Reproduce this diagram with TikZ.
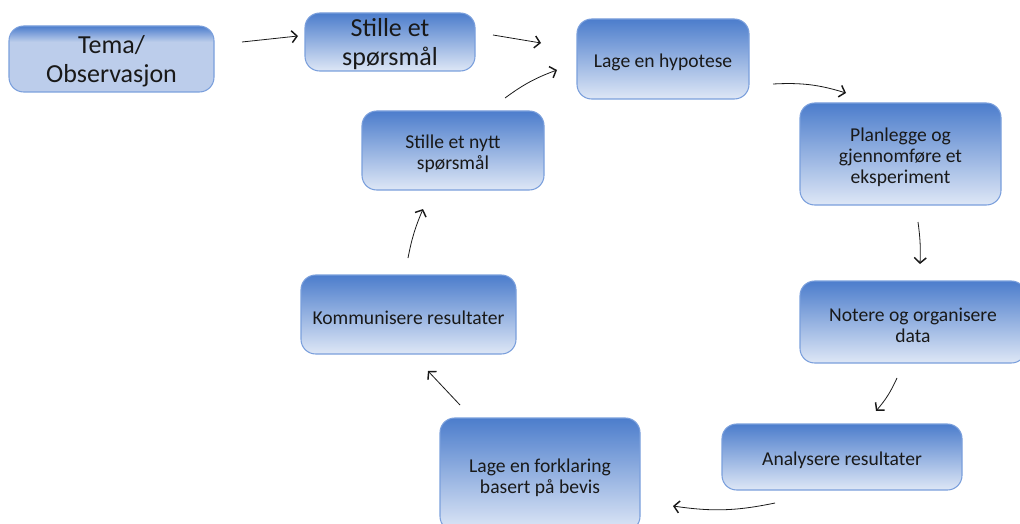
\documentclass[tikz,border=0pt]{standalone}
\usepackage{fontspec}
\setmainfont{Carlito}
\usepackage{tikz}
\usetikzlibrary{arrows.meta}
\usetikzlibrary{positioning,calc,shadings}

\definecolor{boxtop}{RGB}{76,125,204}
\definecolor{boxlow}{RGB}{222,231,246}
\definecolor{boxline}{RGB}{122,159,220}
\definecolor{temalow}{RGB}{188,205,235}
\pgfdeclareverticalshading{temashade}{100bp}{color(0bp)=(temalow); color(25bp)=(temalow);
  color(63bp)=(temalow); color(75bp)=(boxtop); color(100bp)=(boxtop)}
\newcommand{\topstrut}{\rule{0pt}{1em}}

\begin{document}
\begin{tikzpicture}[
    x=0.75pt, y=0.75pt,
    every node/.style = {font=\fontsize{14.7}{15.75}\selectfont, text=black!90, align=center},
    stepbox/.style = {rectangle, rounded corners=11pt, draw=boxline, line width=0.8pt,
        top color=boxtop, bottom color=boxlow},
    bigbox/.style = {stepbox, font=\fontsize{19.5}{22}\selectfont, inner ysep=0pt, text depth=-1pt},
    arrowline/.style = {-{Straight Barb[length=4pt,width=9pt,line width=1.1pt]}, line width=0.6pt, black!90},
    ]
    \useasboundingbox (0,0) rectangle (1020,-524);
    \node[bigbox, shading=temashade, minimum width=153.75pt, minimum height=49.5pt] (box-tema) at (111.5,-59) {Tema/\\Observasjon};
    \node[bigbox, minimum width=127.5pt, minimum height=43.5pt] (box-stille) at (390,-42) {Stille et\\spørsmål};
    \node[stepbox, minimum width=129pt, minimum height=60pt] (box-hypotese) at (663,-59) {\topstrut Lage en hypotese};
    \node[stepbox, minimum width=150.75pt, minimum height=76.5pt] (box-planlegge) at (900.5,-154) {\topstrut Planlegge og\\gjennomføre et\\eksperiment};
    \node[stepbox, minimum width=169.5pt, minimum height=61.5pt] (box-notere) at (913,-322) {\topstrut Notere og organisere\\data};
    \node[stepbox, minimum width=180pt, minimum height=49.5pt] (box-analysere) at (842,-457) {\topstrut Analysere resultater};
    \node[stepbox, minimum width=150pt, minimum height=84.75pt] (box-forklaring) at (540,-474.5) {\topstrut Lage en forklaring\\basert på bevis};
    \node[stepbox, minimum width=161.25pt, minimum height=59.25pt] (box-kommunisere) at (408.5,-314.5) {\topstrut Kommunisere resultater};
    \node[stepbox, minimum width=136.5pt, minimum height=59.25pt] (box-nytt) at (453,-150.5) {\topstrut Stille et nytt\\spørsmål};
    % free ends of the arrows
    \coordinate (start-1) at (242,-42);  \coordinate (end-1) at (298,-36);
    \coordinate (start-2) at (493,-35);  \coordinate (end-2) at (541,-43);
    \coordinate (start-3) at (505,-98);  \coordinate (end-3) at (557,-70);
    \coordinate (start-4) at (773,-84);  \coordinate (end-4) at (846,-93);
    \coordinate (start-5) at (918,-222); \coordinate (end-5) at (920,-264);
    \coordinate (start-6) at (897,-378); \coordinate (end-6) at (876,-411);
    \coordinate (start-7) at (775,-503); \coordinate (end-7) at (673,-506);
    \coordinate (start-8) at (460,-405); \coordinate (end-8) at (428,-371);
    \coordinate (start-9) at (408,-258); \coordinate (end-9) at (423,-209);
    \draw[arrowline] (start-1) -- (end-1);
    \draw[arrowline] (start-2) -- (end-2);
    \draw[arrowline] (start-3) to[bend left=8] (end-3);
    \draw[arrowline] (start-4) to[bend left=10] (end-4);
    \draw[arrowline] (start-5) to[bend left=5] (end-5);
    \draw[arrowline] (start-6) to[bend left=8] (end-6);
    \draw[arrowline] (start-7) to[bend left=10] (end-7);
    \draw[arrowline] (start-8) -- (end-8);
    \draw[arrowline] (start-9) to[bend left=6] (end-9);
\end{tikzpicture}
\end{document}
